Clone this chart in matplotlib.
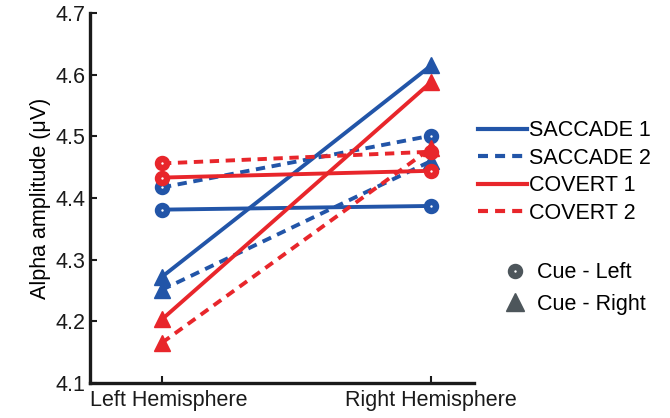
import matplotlib
matplotlib.use("Agg")
import matplotlib.pyplot as plt
import matplotlib.transforms as mtransforms
from matplotlib.lines import Line2D

plt.rcParams['font.family'] = ['Liberation Sans', 'DejaVu Sans']

hemispheres = ["Left Hemisphere", "Right Hemisphere"]
x_pos = [1, 2]

conditions = ["SACCADE 1", "SACCADE 2", "COVERT 1", "COVERT 2"]
# alpha amplitude (µV), left / right hemisphere
cue_left = {
    "SACCADE 1": [4.381, 4.387],
    "SACCADE 2": [4.417, 4.501],
    "COVERT 1": [4.433, 4.444],
    "COVERT 2": [4.456, 4.475],
}
cue_right = {
    "SACCADE 1": [4.272, 4.615],
    "SACCADE 2": [4.251, 4.460],
    "COVERT 1": [4.203, 4.588],
    "COVERT 2": [4.165, 4.481],
}

BLUE = "#2255a8"
RED = "#e8262b"
DASH = (0, (2.4, 1.7))
styles = {
    "SACCADE 1": (BLUE, "-"),
    "SACCADE 2": (BLUE, DASH),
    "COVERT 1": (RED, "-"),
    "COVERT 2": (RED, DASH),
}

fig = plt.figure(figsize=(6.7, 4.18), dpi=100)
ax = fig.add_axes([0.134, 0.084, 0.574, 0.885])

for cond in conditions:
    col, ls = styles[cond]
    ax.plot(x_pos, cue_left[cond], color=col, linestyle=ls, lw=2.8,
            marker="o", ms=6.5, mfc="white", mec=col, mew=4.6, zorder=3)
    ax.plot(x_pos, cue_right[cond], color=col, linestyle=ls, lw=2.8,
            marker="^", ms=12, mfc=col, mec=col, zorder=3)

ax.set_xlim(0.732, 2.16)
ax.set_ylim(4.1, 4.7)
ax.set_xticks(x_pos)
ax.set_xticklabels(hemispheres, fontsize=15.5)
ax.set_yticks([4.1, 4.2, 4.3, 4.4, 4.5, 4.6, 4.7])
ax.set_yticklabels(["4.1", "4.2", "4.3", "4.4", "4.5", "4.6", "4.7"], fontsize=15.5)
ax.set_ylabel("Alpha amplitude (\u03bcV)", fontsize=15.5, labelpad=3)
for side in ("top", "right"):
    ax.spines[side].set_visible(False)
for side in ("left", "bottom"):
    ax.spines[side].set_linewidth(2.4)
    ax.spines[side].set_color("#1a1a1a")
ax.tick_params(direction="in", length=5, width=1.5, colors="#1a1a1a", labelcolor="#1a1a1a")
ax.tick_params(axis="x", pad=5)
ax.tick_params(axis="y", pad=3)

# nudge the first hemisphere label slightly to the right
first = ax.get_xticklabels()[0]
first.set_transform(first.get_transform() +
                    mtransforms.ScaledTranslation(0.065, 0, fig.dpi_scale_trans))

cond_handles = [Line2D([], [], color=styles[c][0], linestyle=styles[c][1], lw=3.0)
                for c in conditions]
leg1 = fig.legend(cond_handles, conditions, loc="upper left",
                  bbox_to_anchor=(0.713, 0.712), frameon=False, fontsize=15.5,
                  handlelength=2.3, handletextpad=0.1, labelspacing=0.3,
                  borderaxespad=0, borderpad=0)

GREY = "#4d565b"
cue_handles = [
    Line2D([], [], linestyle="none", marker="o", ms=6.5, mfc="white", mec=GREY, mew=4.6),
    Line2D([], [], linestyle="none", marker="^", ms=13, mfc=GREY, mec=GREY),
]
leg2 = fig.legend(cue_handles, ["Cue - Left", "Cue - Right"], loc="upper left",
                  bbox_to_anchor=(0.752, 0.373), frameon=False, fontsize=15.5,
                  handlelength=1.0, handletextpad=0.55, labelspacing=0.5,
                  borderaxespad=0, borderpad=0)

fig.savefig("out.png", dpi=100)
